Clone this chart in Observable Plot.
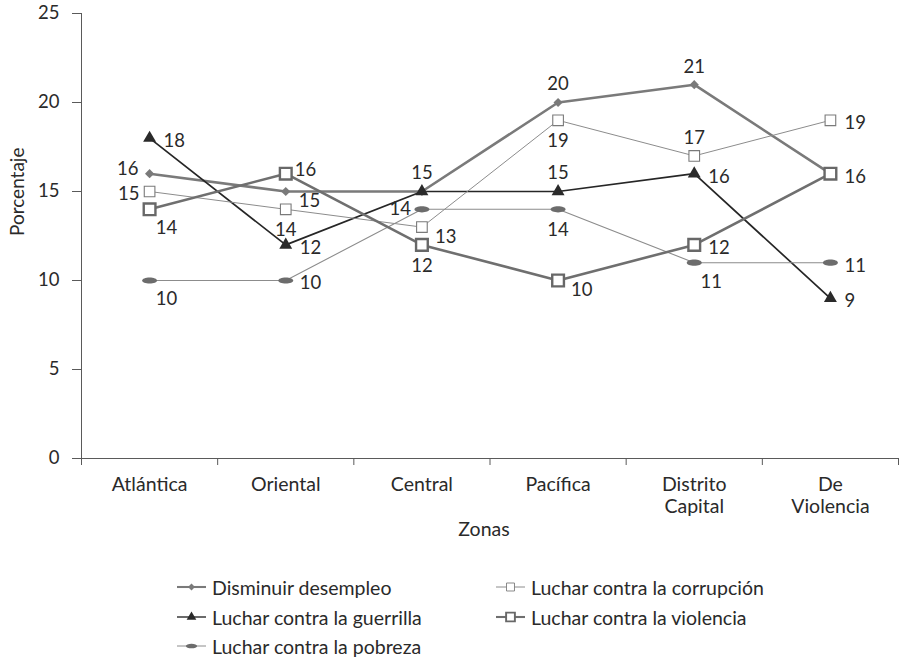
<!DOCTYPE html>
<html>
<head>
<meta charset="utf-8">
<script src="https://cdn.jsdelivr.net/npm/d3@7"></script>
<script src="https://cdn.jsdelivr.net/npm/@observablehq/plot@0.6"></script>
<style>
  body { margin: 0; background: #fff; font-family: "Lato", "Open Sans", sans-serif; color: #2a2a2a; }
  #chart { position: relative; width: 899px; height: 664px; }
  .leg { position: absolute; display: flex; align-items: center; font-size: 19.5px; white-space: nowrap; height: 20px; }
  .leg svg { margin-right: 6px; }
</style>
</head>
<body>
<div id="chart"></div>
<script>
// Zonas del país (eje x)
const zonas = ["Atlántica", "Oriental", "Central", "Pacífica", "Distrito\nCapital", "De\nViolencia"];

// Porcentaje por prioridad en cada zona
const desempleo  = [16, 15, 15, 20, 21, 16];
const guerrilla  = [18, 12, 15, 15, 16, 9];
const pobreza    = [10, 10, 14, 14, 11, 11];
const corrupcion = [15, 14, 13, 19, 17, 19];
const violencia  = [14, 16, 12, 10, 12, 16];

const nombres = [
  "Disminuir desempleo",
  "Luchar contra la guerrilla",
  "Luchar contra la pobreza",
  "Luchar contra la corrupción",
  "Luchar contra la violencia"
];
const valores = [desempleo, guerrilla, pobreza, corrupcion, violencia];

const yTicks = [0, 5, 10, 15, 20, 25];

// Where each value label sits around its marker (null = shared label drawn by another series)
const ubicacion = [
  ["lu", "rb", null, "a", "a", null],
  ["r", "r", "a", "a", "r", "r"],
  ["br", "r", "l", "b", "br", "r"],
  ["ld", "b", "rb", "b", "a", "r"],
  ["br", "ru", "b", "rb", "r", "r"]
];
const desplaz = {
  l:  {dx: -11, dy: 0,   textAnchor: "end"},
  lu: {dx: -11, dy: -5,  textAnchor: "end"},
  ld: {dx: -10, dy: 3,   textAnchor: "end"},
  r:  {dx: 14,  dy: 3,   textAnchor: "start"},
  ru: {dx: 9,   dy: -4,  textAnchor: "start"},
  rb: {dx: 13,  dy: 10,  textAnchor: "start"},
  a:  {dx: 0,   dy: -18, textAnchor: "middle"},
  b:  {dx: 0,   dy: 21,  textAnchor: "middle"},
  br: {dx: 17,  dy: 19,  textAnchor: "middle"}
};

// Custom marker shapes
const rombo = {
  draw(ctx, size) {
    const r = Math.sqrt(size / Math.PI);
    ctx.moveTo(0, -r); ctx.lineTo(r, 0); ctx.lineTo(0, r); ctx.lineTo(-r, 0); ctx.closePath();
  }
};
const elipse = {
  draw(ctx, size) {
    const r = Math.sqrt(size / Math.PI), a = 1.5 * r, b = 0.62 * r, k = 0.5523;
    ctx.moveTo(a, 0);
    ctx.bezierCurveTo(a, k * b, k * a, b, 0, b);
    ctx.bezierCurveTo(-k * a, b, -a, k * b, -a, 0);
    ctx.bezierCurveTo(-a, -k * b, -k * a, -b, 0, -b);
    ctx.bezierCurveTo(k * a, -b, a, -k * b, a, 0);
    ctx.closePath();
  }
};

const estilos = [
  {line: "#7a7a7a", lw: 2.6, symbol: rombo,              r: 4.6, fill: "#7a7a7a", stroke: "none",    sw: 0},
  {line: "#262626", lw: 1.7, symbol: d3.symbolTriangle,  r: 4.8, fill: "#2a2a2a", stroke: "none",    sw: 0},
  {line: "#8c8c8c", lw: 1.1, symbol: elipse,             r: 5,   fill: "#6c6c6c", stroke: "none",    sw: 0},
  {line: "#8c8c8c", lw: 1.0, symbol: d3.symbolSquare,    r: 6.0, fill: "#ffffff", stroke: "#7a7a7a", sw: 1.1},
  {line: "#6f6f6f", lw: 2.6, symbol: d3.symbolSquare,    r: 6.6, fill: "#ffffff", stroke: "#686868", sw: 2.4}
];

// Long table: one row per series and zone
const filas = [];
nombres.forEach((serie, s) => {
  valores[s].forEach((v, i) => filas.push({serie, s, i, valor: v, pos: ubicacion[s][i]}));
});

const n = zonas.length;
const bordes = d3.range(n + 1).map(k => k - 0.5);
const centros = d3.range(n);

const marcas = [
  Plot.ruleY([0], {x1: -0.5, x2: n - 0.5, stroke: "#5a5a5a", strokeWidth: 1}),
  Plot.ruleX([-0.5], {y1: 0, y2: 25, stroke: "#5a5a5a", strokeWidth: 1}),
  Plot.axisY({ticks: yTicks, tickSize: 9, tickPadding: 13, label: null, stroke: "#5a5a5a", fill: "#2a2a2a", fontSize: 18.5}),
  Plot.axisX({ticks: bordes, tickSize: 7, tickFormat: () => "", label: null, stroke: "#5a5a5a"}),
  Plot.axisX({ticks: centros, tickSize: 0, tickPadding: 17, tickFormat: i => zonas[i], label: null, lineHeight: 1.12, fill: "#2a2a2a", fontSize: 19.5})
];

estilos.forEach((e, s) => {
  marcas.push(Plot.line(filas, {filter: d => d.s === s, x: "i", y: "valor", stroke: e.line, strokeWidth: e.lw}));
});
estilos.forEach((e, s) => {
  marcas.push(Plot.dot(filas, {filter: d => d.s === s, x: "i", y: "valor", symbol: e.symbol, r: e.r,
    fill: e.fill, stroke: e.stroke, strokeWidth: e.sw}));
});
Object.entries(desplaz).forEach(([k, o]) => {
  marcas.push(Plot.text(filas, {filter: d => d.pos === k, x: "i", y: "valor", text: d => String(d.valor),
    dx: o.dx, dy: o.dy, textAnchor: o.textAnchor, fill: "#2a2a2a", fontSize: 18.5}));
});
marcas.push(Plot.text(["Porcentaje"], {frameAnchor: "left", dx: -64, rotate: -90, fill: "#2a2a2a", fontSize: 19}));
marcas.push(Plot.text(["Zonas"], {frameAnchor: "bottom", dx: -6, dy: 77, fill: "#2a2a2a", fontSize: 19.5}));

const grafico = Plot.plot({
  width: 899,
  height: 560,
  marginLeft: 81,
  marginRight: 1,
  marginTop: 13,
  marginBottom: 102,
  style: {fontFamily: "Lato, 'Open Sans', sans-serif", fontSize: "18px", background: "#fff", color: "#2a2a2a"},
  x: {type: "linear", domain: [-0.5, n - 0.5]},
  y: {domain: [0, 25]},
  marks: marcas
});

const cont = document.getElementById("chart");
cont.appendChild(grafico);

// Legend below the plot, two columns
const posLeyenda = [
  {x: 177, y: 577}, {x: 177, y: 607}, {x: 177, y: 636},
  {x: 496, y: 577}, {x: 496, y: 607}
];
nombres.forEach((nombre, s) => {
  const e = estilos[s];
  const div = document.createElement("div");
  div.className = "leg";
  div.style.left = posLeyenda[s].x + "px";
  div.style.top = posLeyenda[s].y + "px";
  const svg = d3.create("svg").attr("width", 29).attr("height", 14);
  svg.append("line").attr("x1", 0).attr("x2", 29).attr("y1", 7).attr("y2", 7)
    .attr("stroke", e.line).attr("stroke-width", Math.max(1, e.lw * 0.8));
  const rr = e.r * 0.75;
  svg.append("path")
    .attr("transform", "translate(14.5,7)")
    .attr("d", d3.symbol(e.symbol, rr * rr * Math.PI)())
    .attr("fill", e.fill).attr("stroke", e.stroke).attr("stroke-width", e.sw * 0.8);
  div.appendChild(svg.node());
  const span = document.createElement("span");
  span.textContent = nombre;
  div.appendChild(span);
  cont.appendChild(div);
});
</script>
</body>
</html>
